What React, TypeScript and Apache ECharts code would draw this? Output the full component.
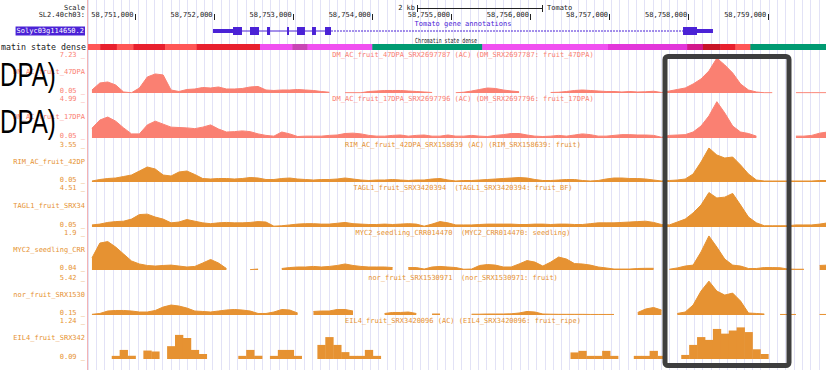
import { useEffect, useRef } from 'react';
import * as echarts from 'echarts';

// ---------- genomic window ----------
const START = 58750406;
const END = 58759736;
const BIN = 100;
const N_BINS = 94;
const binCenters = Array.from({ length: N_BINS }, (_, i) => START + 50 + i * BIN);

const coordTicks = [58751000, 58752000, 58753000, 58754000, 58755000, 58756000, 58757000, 58758000, 58759000];

// ---------- gene model (Solyc03g114650.2) ----------
const geneName = 'Solyc03g114650.2';
const exonStarts = [58751986, 58752239, 58752454, 58752669, 58752922, 58753048, 58753238, 58753402, 58757928, 58758105];
const exonEnds = [58752239, 58752353, 58752568, 58752707, 58752947, 58753149, 58753288, 58753478, 58758105, 58758307];
const exonIsCds = [0, 1, 1, 1, 1, 1, 1, 1, 1, 0];

// ---------- chromatin states ----------
const chromStart = [58750400, 58750560, 58750770, 58750980, 58751380, 58751780, 58752580, 58752990, 58753180, 58754000, 58755390, 58756980, 58757980, 58758180, 58758400, 58758590, 58758780];
const chromEnd = [58750560, 58750770, 58750980, 58751380, 58751780, 58752580, 58752990, 58753180, 58754000, 58755390, 58756980, 58757980, 58758180, 58758400, 58758590, 58758780, 58759740];
const chromState = ['TxWk', 'Tx', 'TxWk', 'Tx', 'TxWk', 'Tx', 'Enh', 'EnhStr', 'Enh', 'Quies', 'Enh', 'EnhG', 'TssF', 'TssA', 'Tx', 'TxWk', 'Quies'];

// ---------- tracks ----------
const trackShort = ['DM_AC_fruit_47DPA', 'DM_AC_fruit_17DPA', 'RIM_AC_fruit_42DP', 'TAGL1_fruit_SRX34', 'MYC2_seedling_CRR', 'nor_fruit_SRX1530', 'EIL4_fruit_SRX342'];
const trackTitle = [
  'DM_AC_fruit_47DPA_SRX2697787 (AC) (DM_SRX2697787: fruit_47DPA)',
  'DM_AC_fruit_17DPA_SRX2697796 (AC) (DM_SRX2697796: fruit_17DPA)',
  'RIM_AC_fruit_42DPA_SRX158639 (AC) (RIM_SRX158639: fruit)',
  'TAGL1_fruit_SRX3420394  (TAGL1_SRX3420394: fruit_BF)',
  'MYC2_seedling_CRR014470  (MYC2_CRR014470: seedling)',
  'nor_fruit_SRX1530971  (nor_SRX1530971: fruit)',
  'EIL4_fruit_SRX3420096 (AC) (EIL4_SRX3420096: fruit_ripe)',
];
const trackMaxLabel = ['7.23', '4.99', '3.55', '4.51', '1.9', '5.42', '1.24'];
const trackMinLabel = ['0.05', '0.05', '0.05', '0.05', '0.04', '0.15', '0.09'];

const dm47 = [
  0.65, 2.05, 2.25, 1.65, 0.25, 0.1, 1.05, 3.25, 3.85, 3.65,
  0.65, 0.35, 0.75, 0.85, 1.15, 1.05, 1.25, 0.85, 0.85, 0.95,
  1.25, 1.35, 0.65, 0.55, 0.65, 0.65, 0.75, 0.65, 0.55, 0.35,
  0.2, null, 0.1, 0.1, 0.1, 0.35, 0.45, 0.55, 0.55, 0.55,
  0.45, 0.35, 0.25, 0.15, null, null, 0.1, 0.2, 0.45, 0.75,
  1.05, 0.95, 0.65, 0.45, 0.3, null, null, null, 0.15, 0.2,
  0.35, 0.55, 0.65, 0.55, 0.45, 0.35, 0.35, 0.25, 0.35, 0.25,
  0.3, 0.4, 0.15, 0.45, 0.75, 1.05, 1.85, 2.85, 4.45, 7.0,
  5.65, 4.05, 1.85, 0.65, 0.25, 0.1, 0.1, null, null, 0.1,
  0.1, 0.1, 0.1, 0.1,
];
const dm17 = [
  1.35, 2.45, 2.85, 2.3, 1.4, 0.6, 0.6, 1.8, 2.3, 1.9,
  1.5, 1.45, 1.4, 1.3, 1.5, 1.8, 1.25, 0.85, 0.9, 1.0,
  0.9, 0.6, 0.4, 0.3, 0.85, 0.6, 0.25, 0.3, 0.3, 0.3,
  0.4, 0.45, 0.65, 0.7, 0.6, 0.4, 0.3, 0.3, 0.4, 0.45,
  0.3, 0.4, 0.45, 0.3, 0.3, 0.45, 0.3, 0.3, 0.4, 0.3,
  0.25, 0.4, 0.5, 0.65, 0.65, 0.45, 0.3, 0.25, 0.3, 0.4,
  0.3, 0.45, 0.6, 0.5, 0.3, 0.3, 0.4, 0.5, 0.5, 0.45,
  0.45, 0.4, 0.15, 0.4, 0.45, 0.5, 0.85, 1.65, 3.0, 4.9,
  3.4, 1.65, 0.85, 0.65, 0.3, null, null, null, null, 0.3,
  0.3, 0.4, 0.7, 0.85,
];
const rim42 = [
  0.15, 0.3, 0.4, 0.45, 0.6, 0.75, 1.15, 1.55, 1.35, 0.75,
  0.65, 1.05, 1.15, 0.8, 0.4, 0.35, 0.4, 0.4, 0.35, 0.4,
  0.5, 0.45, 0.3, 0.3, 0.4, 0.45, 0.35, 0.3, 0.25, 0.3,
  0.3, 0.35, 0.45, 0.35, 0.25, 0.2, 0.25, 0.25, 0.3, 0.25,
  0.2, 0.25, 0.25, 0.35, 0.4, 0.25, 0.15, 0.2, 0.2, 0.25,
  0.3, 0.35, 0.4, 0.45, 0.5, 0.45, 0.3, 0.2, 0.2, 0.25,
  0.3, 0.3, 0.2, 0.15, 0.2, 0.35, 0.45, 0.45, 0.4, 0.4,
  0.35, 0.25, 0.15, 0.2, 0.25, 0.35, 0.85, 2.05, 3.45, 2.75,
  2.45, 2.55, 1.75, 0.85, 0.25, 0.15, 0.15, 0.15, 0.15, 0.15,
  0.15, 0.15, 0.2, 0.2,
];
const tagl1 = [
  0.3, 0.4, 0.6, 0.7, 0.75, 1.0, 1.55, 1.6, 1.25, 1.0,
  0.55, 0.65, 0.95, 0.75, 0.55, 0.45, 0.55, 0.6, 0.55, 0.55,
  0.6, 0.7, 0.65, 0.15, 0.2, 0.3, 0.4, 0.45, 0.45, 0.4,
  0.4, 0.5, 0.6, 0.45, 0.4, 0.35, 0.35, 0.4, 0.35, 0.4,
  0.45, 0.4, 0.15, 0.4, 0.7, 0.55, 0.3, 0.3, 0.3, 0.35,
  0.4, 0.4, 0.4, 0.4, 0.35, 0.35, 0.4, 0.4, 0.35, 0.4,
  0.4, 0.35, 0.35, 0.45, 0.55, 0.55, 0.55, 0.6, 0.65, 0.7,
  0.75, 0.6, 0.35, 0.3, 0.65, 1.0, 1.75, 2.7, 4.2, 3.55,
  3.65, 4.1, 2.7, 1.25, 0.55, 0.2, 0.2, 0.2, 0.2, 0.3,
  0.3, 0.3, 0.4, 0.55,
];
const myc2 = [
  0.68, 1.47, 1.55, 1.26, 0.89, 0.52, 0.36, 0.28, 0.25, 0.28,
  0.3, 0.25, 0.2, 0.23, 0.41, 0.6, 0.41, 0.12, null, null,
  0.06, 0.09, null, null, 0.12, 0.17, 0.2, 0.2, 0.23, 0.2,
  0.23, 0.28, 0.36, 0.28, 0.23, 0.2, 0.2, 0.2, 0.17, null,
  0.17, 0.17, 0.09, 0.2, 0.23, 0.2, 0.17, 0.08, 0.09, 0.28,
  0.33, 0.3, 0.2, 0.2, 0.36, 0.54, 0.46, 0.25, 0.46, 0.73,
  0.62, 0.38, 0.36, 0.3, 0.2, 0.15, 0.09, 0.09, 0.09, 0.12,
  0.13, 0.13, null, 0.08, 0.15, 0.25, 0.3, 1.0, 1.85, 1.26,
  0.62, 0.3, 0.25, 0.12, 0.12, 0.17, 0.17, 0.16, 0.09, 0.08,
  0.08, null, 0.28, 0.3,
];
const nor = [
  0.25, 0.38, 0.75, 0.83, 0.83, 0.75, 0.6, 0.6, 0.83, 1.35,
  1.65, 1.5, 1.2, 0.75, 0.68, 0.6, 0.75, 0.9, 0.98, 0.9,
  0.75, 0.38, 0.38, 0.6, 0.98, 0.9, 0.45, null, 0.68, 0.75,
  0.75, 0.98, 0.98, 0.75, null, null, null, 0.38, 0.53, 0.53,
  0.6, 0.38, null, 0.3, 0.3, null, null, null, 0.27, 0.27,
  0.3, 0.3, 0.3, 0.33, 0.45, 0.68, 0.6, 0.3, 0.27, 0.25,
  0.25, 0.25, 0.25, 0.23, 0.23, 0.23, 0.23, null, null, 0.53,
  1.05, 1.28, 0.9, null, 0.38, 0.6, 1.65, 3.75, 5.25, 3.75,
  3.15, 3.45, 2.25, 0.45, 0.38, 0.3, null, 0.23, 0.23, 0.23,
  null, null, 0.23, 0.23,
];
const eil4 = [
  null, null, null, 0.19, 0.38, 0.19, null, 0.36, 0.33, null,
  0.5, 0.86, 0.76, 0.38, 0.25, null, null, null, null, 0.19,
  0.38, 0.19, null, 0.19, 0.38, 0.38, 0.19, null, null, 0.54,
  0.79, 0.54, 0.31, 0.19, 0.19, 0.38, 0.19, null, null, null,
  null, null, null, null, null, null, null, null, null, null,
  null, null, null, null, null, null, null, null, null, null,
  null, 0.3, 0.35, 0.19, 0.19, 0.35, 0.19, null, null, 0.19,
  0.19, 0.35, 0.19, null, null, 0.22, 0.54, 0.79, 0.7, 1.05,
  0.9, 1.0, 1.1, 0.95, 0.4, 0.25, null, null, null, null,
  null, null, null, null,
];
const trackData = [dm47, dm17, rim42, tagl1, myc2, nor, eil4];

// ---------- layout / style ----------
const PLOT_LEFT = 88;
const PLOT_WIDTH = 738;
const TRACK_TOP = [57, 101, 147, 190, 235, 280, 323];
const TRACK_BASE = [93, 138, 182, 227, 270, 315, 359];
const SALMON = '#fa8072';
const ORANGE = '#e69232';
const TRACK_COLOR = [SALMON, SALMON, ORANGE, ORANGE, ORANGE, ORANGE, ORANGE];
const GENE_COLOR = '#4b22d6';
const STATE_COLOR: Record<string, string> = {
  TxWk: '#ff5656', Tx: '#e8202e', Enh: '#f050f0', EnhStr: '#c846b4',
  Quies: '#009b72', EnhG: '#e236da', TssF: '#d2188c', TssA: '#c81428',
};
const MONO = '"DejaVu Sans Mono", monospace';

export default function App() {
  const ref = useRef<HTMLDivElement>(null);

  useEffect(() => {
    const chart = echarts.init(ref.current!, null, { renderer: 'svg' });

    const grids: any[] = [];
    const xAxes: any[] = [];
    const yAxes: any[] = [];
    const series: any[] = [];
    const hidden = { show: false };

    // 0: background guide lines
    grids.push({ left: PLOT_LEFT, top: 0, width: PLOT_WIDTH, height: 370 });
    xAxes.push({
      gridIndex: 0, type: 'value', min: 0, max: END - START, interval: 105,
      axisLine: hidden, axisTick: hidden, axisLabel: hidden,
      splitLine: { show: true, lineStyle: { color: '#e2e2f6', width: 1 } },
    });
    yAxes.push({ gridIndex: 0, type: 'value', show: false });

    // 1: coordinate ruler
    grids.push({ left: PLOT_LEFT, top: 19, width: PLOT_WIDTH, height: 1 });
    xAxes.push({
      gridIndex: 1, type: 'value', position: 'top', min: START, max: END,
      axisLine: hidden, splitLine: hidden,
      axisTick: { show: true, customValues: coordTicks, length: 6, lineStyle: { color: '#222', width: 1 } },
      axisLabel: {
        show: true, customValues: coordTicks, align: 'right', margin: 1, padding: [0, 1.5, 0, 0],
        formatter: (v: number) => v.toLocaleString('en-US'),
        color: '#222', fontFamily: MONO, fontSize: 7,
      },
    });
    yAxes.push({ gridIndex: 1, type: 'value', show: false });

    // 2: gene model
    grids.push({ left: PLOT_LEFT, top: 27, width: PLOT_WIDTH, height: 8 });
    xAxes.push({ gridIndex: 2, type: 'value', min: START, max: END, show: false });
    yAxes.push({ gridIndex: 2, type: 'value', min: 0, max: 1, show: false });
    series.push({
      type: 'line', xAxisIndex: 2, yAxisIndex: 2, symbol: 'none', silent: true,
      data: [[exonStarts[0], 0.5], [exonEnds[7], 0.5]],
      lineStyle: { color: GENE_COLOR, width: 1 },
    });
    series.push({
      type: 'line', xAxisIndex: 2, yAxisIndex: 2, symbol: 'none', silent: true,
      data: [[exonEnds[7], 0.5], [exonStarts[8], 0.5]],
      lineStyle: { color: GENE_COLOR, width: 1, type: [2, 1] },
    });
    series.push({
      type: 'custom', xAxisIndex: 2, yAxisIndex: 2, silent: true, clip: true,
      data: exonStarts.map((s, i) => [s, exonEnds[i], exonIsCds[i]]),
      renderItem: (_p: any, api: any) => {
        const hh = api.value(2) === 1 ? 0.5 : 0.25;
        const p0 = api.coord([api.value(0), 0.5 + hh]);
        const p1 = api.coord([api.value(1), 0.5 - hh]);
        return {
          type: 'rect',
          shape: { x: p0[0], y: p0[1], width: Math.max(1, p1[0] - p0[0]), height: p1[1] - p0[1] },
          style: { fill: GENE_COLOR },
        };
      },
    });

    // 3: chromatin state bar
    grids.push({ left: PLOT_LEFT, top: 44, width: PLOT_WIDTH, height: 6 });
    xAxes.push({ gridIndex: 3, type: 'value', min: START, max: END, show: false });
    yAxes.push({ gridIndex: 3, type: 'value', min: 0, max: 1, show: false });
    series.push({
      type: 'custom', xAxisIndex: 3, yAxisIndex: 3, silent: true, clip: true,
      data: chromStart.map((s, i) => ({ value: [s, chromEnd[i]], itemStyle: { color: STATE_COLOR[chromState[i]] } })),
      renderItem: (_p: any, api: any) => {
        const p0 = api.coord([api.value(0), 1]);
        const p1 = api.coord([api.value(1), 0]);
        return {
          type: 'rect',
          shape: { x: p0[0], y: p0[1], width: p1[0] - p0[0] + 0.5, height: p1[1] - p0[1] },
          style: { fill: api.visual('color') },
        };
      },
    });

    // 4..10: signal tracks
    trackData.forEach((d, i) => {
      const gi = 4 + i;
      const lo = parseFloat(trackMinLabel[i]);
      const color = TRACK_COLOR[i];
      grids.push({ left: PLOT_LEFT, top: TRACK_TOP[i], width: PLOT_WIDTH, height: TRACK_BASE[i] - TRACK_TOP[i] });
      xAxes.push({ gridIndex: gi, type: 'value', min: START, max: END, show: false });
      yAxes.push({ gridIndex: gi, type: 'value', show: false, min: lo, max: parseFloat(trackMaxLabel[i]) });
      const pts = binCenters.map((x, j) => [x, d[j]]);
      if (i < 6) {
        series.push({
          type: 'line', xAxisIndex: gi, yAxisIndex: gi, data: pts, symbol: 'none', showSymbol: false,
          connectNulls: false, silent: true, clip: true,
          lineStyle: { color, width: 1 },
          areaStyle: { color, opacity: 1, origin: 'start' },
        });
      } else {
        // binned step blocks: each bin drawn across its own 100 bp
        series.push({
          type: 'custom', xAxisIndex: gi, yAxisIndex: gi, silent: true, clip: true,
          data: pts.filter((p) => p[1] != null),
          renderItem: (_p: any, api: any) => {
            const c = api.value(0);
            const v = api.value(1);
            const p0 = api.coord([c - BIN / 2, v]);
            const p1 = api.coord([c + BIN / 2, lo]);
            return {
              type: 'rect',
              shape: { x: p0[0], y: p0[1], width: p1[0] - p0[0] + 0.4, height: p1[1] - p0[1] },
              style: { fill: color },
            };
          },
        });
      }
    });

    // ---------- graphic texts & overlays ----------
    const txt = (x: number, y: number, text: string, align: string, fill: string, extra: any = {}, el: any = {}) => ({
      type: 'text', x, y, z: 10, silent: true, ...el,
      style: { text, font: `7px ${MONO}`, fill, align, verticalAlign: 'middle', ...extra },
    });
    const g: any[] = [];
    g.push({ type: 'line', z: 5, silent: true, shape: { x1: 87.5, y1: 0, x2: 87.5, y2: 370 }, style: { stroke: '#f4b4b4', lineWidth: 1 } });
    g.push(txt(85, 8, 'Scale', 'right', '#222'));
    g.push(txt(85, 15, 'SL2.40ch03:', 'right', '#222'));
    g.push(txt(415, 8, '2 kb', 'right', '#222'));
    g.push({ type: 'line', z: 10, silent: true, shape: { x1: 417, y1: 8.5, x2: 543, y2: 8.5 }, style: { stroke: '#222', lineWidth: 1 } });
    g.push({ type: 'line', z: 10, silent: true, shape: { x1: 417.5, y1: 5, x2: 417.5, y2: 12 }, style: { stroke: '#222', lineWidth: 1 } });
    g.push({ type: 'line', z: 10, silent: true, shape: { x1: 542.5, y1: 5, x2: 542.5, y2: 12 }, style: { stroke: '#222', lineWidth: 1 } });
    g.push(txt(547, 8, 'Tomato', 'left', '#222'));
    g.push(txt(85, 31, geneName, 'right', '#ffffff', { backgroundColor: GENE_COLOR, padding: [1, 1, 1, 1] }));
    g.push(txt(463, 24, 'Tomato gene annotations', 'center', GENE_COLOR));
    g.push(txt(446, 40, 'Chromatin state dense', 'center', '#222', {}, { scaleX: 0.7 }));
    g.push(txt(1, 47, 'matin state dense', 'left', '#222', { font: `8.3px ${MONO}` }));

    trackShort.forEach((name, i) => {
      const c = TRACK_COLOR[i];
      const top = TRACK_TOP[i];
      const base = TRACK_BASE[i];
      g.push(txt(85, top - 2, `${trackMaxLabel[i]} _`, 'right', c));
      g.push(txt(85, base - 2, `${trackMinLabel[i]} _`, 'right', c));
      g.push(txt(85, (top + base) / 2 - 3, name, 'right', c));
      g.push(txt(463, top - 2, trackTitle[i], 'center', c));
    });

    // highlight box
    g.push({
      type: 'rect', z: 100, silent: true,
      shape: { x: 665, y: 56.5, width: 124, height: 309, r: 3 },
      style: { fill: 'none', stroke: '#3e3e3e', lineWidth: 5 },
    });
    // overlaid slide text
    [75, 122].forEach((y) => {
      g.push({
        type: 'text', x: 0, y, z: 100, scaleX: 0.73, silent: true,
        style: { text: 'DPA)', font: '33px "Liberation Sans", Arial, sans-serif', fill: '#000', align: 'left', verticalAlign: 'middle' },
      });
    });

    chart.setOption({
      animation: false,
      backgroundColor: '#ffffff',
      grid: grids,
      xAxis: xAxes,
      yAxis: yAxes,
      series,
      graphic: { elements: g },
    });

    return () => chart.dispose();
  }, []);

  return <div ref={ref} style={{ position: 'fixed', left: 0, top: 0, width: 826, height: 370 }} />;
}
